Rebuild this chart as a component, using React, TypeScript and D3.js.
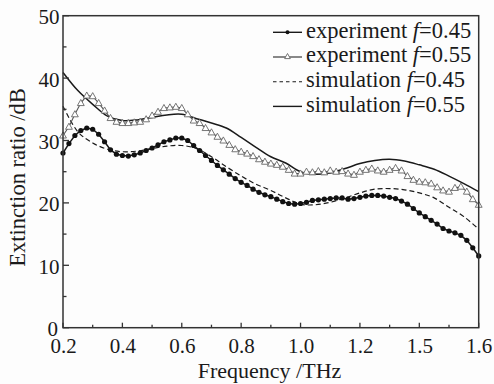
import React from "react";
import * as d3 from "d3";

const expX: number[] = d3.range(0, 71).map((i) => +(0.2 + i * 0.02).toFixed(2));
const exp045: number[] = [
  28.0, 29.5, 30.8, 31.6, 32.0, 31.8, 31.0, 29.8, 28.5, 27.8,
  27.6, 27.5, 27.7, 28.0, 28.4, 28.8, 29.3, 29.8, 30.1, 30.4,
  30.4, 30.0, 29.2, 28.4, 27.6, 26.8, 26.0, 25.3, 24.6, 23.9,
  23.3, 22.8, 22.2, 21.7, 21.3, 21.0, 20.6, 20.2, 19.9, 19.8,
  19.9, 20.1, 20.4, 20.5, 20.6, 20.7, 20.8, 20.8, 20.6, 20.7,
  20.9, 21.1, 21.2, 21.2, 21.1, 20.9, 20.7, 20.3, 19.8, 19.1,
  18.4, 17.8, 17.2, 16.6, 15.9, 15.5, 15.2, 14.8, 14.0, 12.8,
  11.5,
];
const exp055: number[] = [
  30.8, 32.2, 34.2, 36.0, 37.2, 37.1, 36.0, 34.8, 33.6, 33.0,
  32.8, 32.8, 32.9, 33.0, 33.4, 34.0, 34.6, 35.2, 35.3, 35.4,
  35.2, 34.2, 33.2, 32.8, 32.0, 31.3, 30.6, 30.0, 29.3, 28.6,
  28.2, 27.9, 27.5, 27.0, 26.6, 26.3, 26.1, 25.8, 25.3, 24.7,
  24.7, 25.0, 24.9, 25.1, 24.9, 25.2, 25.0, 25.1, 24.7, 24.5,
  25.0, 25.3, 25.5, 25.2, 25.0, 25.3, 25.6, 25.2, 24.3, 23.7,
  23.4, 23.3, 23.1, 22.5, 22.0, 21.8, 22.4, 22.6, 21.8, 20.6,
  19.7,
];
const simX: number[] = d3.range(0, 29).map((i) => +(0.2 + i * 0.05).toFixed(2));
const sim045: number[] = [
  35.5, 31.4, 29.6, 28.6, 28.2, 28.3, 28.7, 29.1, 29.2, 28.7,
  27.4, 25.8, 24.3, 23.0, 22.0, 20.8, 19.8, 19.7, 20.1, 20.8,
  21.6, 22.2, 22.3, 22.1, 21.6, 20.8, 19.3, 17.8, 15.8,
];
const sim055: number[] = [
  40.9, 38.0, 35.8, 33.9, 33.2, 33.3, 33.7, 34.1, 34.2, 33.5,
  32.8, 32.0, 30.5, 28.9, 27.4, 26.4, 25.0, 24.6, 24.8, 25.5,
  26.3, 26.8, 27.0, 26.7, 26.1, 25.4, 24.3, 23.1, 21.8,
];

const xTicks: number[] = [0.2, 0.4, 0.6, 0.8, 1.0, 1.2, 1.4, 1.6];
const xTickLabels: string[] = ["0.2", "0.4", "0.6", "0.8", "1.0", "1.2", "1.5", "1.6"];
const xMinor: number[] = [0.3, 0.5, 0.7, 0.9, 1.1, 1.3, 1.5];
const yTicks: number[] = [0, 10, 20, 30, 40, 50];
const yMinor: number[] = [5, 15, 25, 35, 45];
const legendLabels: string[] = ["experiment ", "experiment ", "simulation ", "simulation "];
const legendF: string[] = ["=0.45", "=0.55", "=0.45", "=0.55"];

const W = 494;
const H = 384;
const L = 63;
const R = 478.7;
const T = 15.7;
const B = 327.7;
const FONT = "'Liberation Serif', 'Times New Roman', serif";
const INK = "#1a1a1a";

export default function App() {
  const x = d3.scaleLinear().domain([0.2, 1.6]).range([L, R]);
  const y = d3.scaleLinear().domain([0, 50]).range([B, T]);
  const lineExp = d3
    .line<number>()
    .x((_, i) => x(expX[i]))
    .y((d) => y(d));
  const lineSim = d3
    .line<number>()
    .x((_, i) => x(simX[i]))
    .y((d) => y(d))
    .curve(d3.curveCatmullRom.alpha(0.5));

  const tri = (cx: number, cy: number, s: number) =>
    `M${cx},${cy - s} L${cx + s * 0.95},${cy + s * 0.7} L${cx - s * 0.95},${cy + s * 0.7} Z`;

  const legY = [32.3, 57, 81.7, 106.4];
  const lx0 = 273;
  const lx1 = 302;
  const tx = 306;

  return (
    <svg
      width={W}
      height={H}
      style={{ position: "absolute", left: 0, top: 0, background: "#fdfdfd" }}
      fontFamily={FONT}
    >
      <rect x={0} y={0} width={W} height={H} fill="#fdfdfd" />
      {/* curves */}
      <path d={lineSim(sim045) || ""} fill="none" stroke={INK} strokeWidth={1.2} strokeDasharray="5,3" />
      <path d={lineSim(sim055) || ""} fill="none" stroke={INK} strokeWidth={1.5} />
      <path d={lineExp(exp055) || ""} fill="none" stroke="#555" strokeWidth={1.1} />
      {exp055.map((v, i) => (
        <path key={"t" + i} d={tri(x(expX[i]), y(v), 3.6)} fill="#fff" stroke="#666" strokeWidth={0.9} />
      ))}
      <path d={lineExp(exp045) || ""} fill="none" stroke={INK} strokeWidth={1.5} />
      {exp045.map((v, i) => (
        <circle key={"c" + i} cx={x(expX[i])} cy={y(v)} r={2.6} fill="#111" />
      ))}

      {/* frame */}
      <rect x={L} y={T} width={R - L} height={B - T} fill="none" stroke="#333" strokeWidth={1.5} />
      {xTicks.map((t) => (
        <line key={"xt" + t} x1={x(t)} x2={x(t)} y1={B} y2={B - 5} stroke="#333" strokeWidth={1.3} />
      ))}
      {xMinor.map((t) => (
        <line key={"xm" + t} x1={x(t)} x2={x(t)} y1={B} y2={B - 3} stroke="#333" strokeWidth={1.3} />
      ))}
      {yTicks.map((t) => (
        <line key={"yt" + t} x1={L} x2={L + 6} y1={y(t)} y2={y(t)} stroke="#333" strokeWidth={1.3} />
      ))}
      {yMinor.map((t) => (
        <line key={"ym" + t} x1={L} x2={L + 3.5} y1={y(t)} y2={y(t)} stroke="#333" strokeWidth={1.3} />
      ))}
      {xTicks.map((t, i) => (
        <text key={"xl" + t} x={x(t) + 0.5} y={353} textAnchor="middle" fontSize={21} fill={INK}>
          {xTickLabels[i]}
        </text>
      ))}
      {yTicks.map((t) => (
        <text key={"yl" + t} x={t === 0 ? 58 : 59.5} y={y(t) + 8.5} textAnchor="end" fontSize={21} fill={INK}>
          {t}
        </text>
      ))}
      <text x={269.5} y={378} textAnchor="middle" fontSize={22} fill={INK}>
        Frequency /THz
      </text>
      <text
        transform={`translate(24.5,${177.5}) rotate(-90)`}
        textAnchor="middle"
        fontSize={22.5}
        fill={INK}
      >
        Extinction ratio /dB
      </text>

      {/* legend */}
      {legY.map((ly, i) => (
        <g key={"lg" + i}>
          <line
            x1={lx0}
            x2={lx1}
            y1={ly}
            y2={ly}
            stroke={i === 1 ? "#555" : INK}
            strokeWidth={i === 2 ? 1.1 : 1.4}
            strokeDasharray={i === 2 ? "3.5,3" : undefined}
          />
          {i === 0 && <circle cx={(lx0 + lx1) / 2} cy={ly} r={2} fill="#111" />}
          {i === 1 && <path d={tri((lx0 + lx1) / 2, ly - 0.5, 3)} fill="#fff" stroke="#666" strokeWidth={0.9} />}
          <text x={tx} y={ly + 5.3} fontSize={22.5} fill={INK}>
            {legendLabels[i]}
            <tspan fontStyle="italic">f</tspan>
            {legendF[i]}
          </text>
        </g>
      ))}
    </svg>
  );
}
